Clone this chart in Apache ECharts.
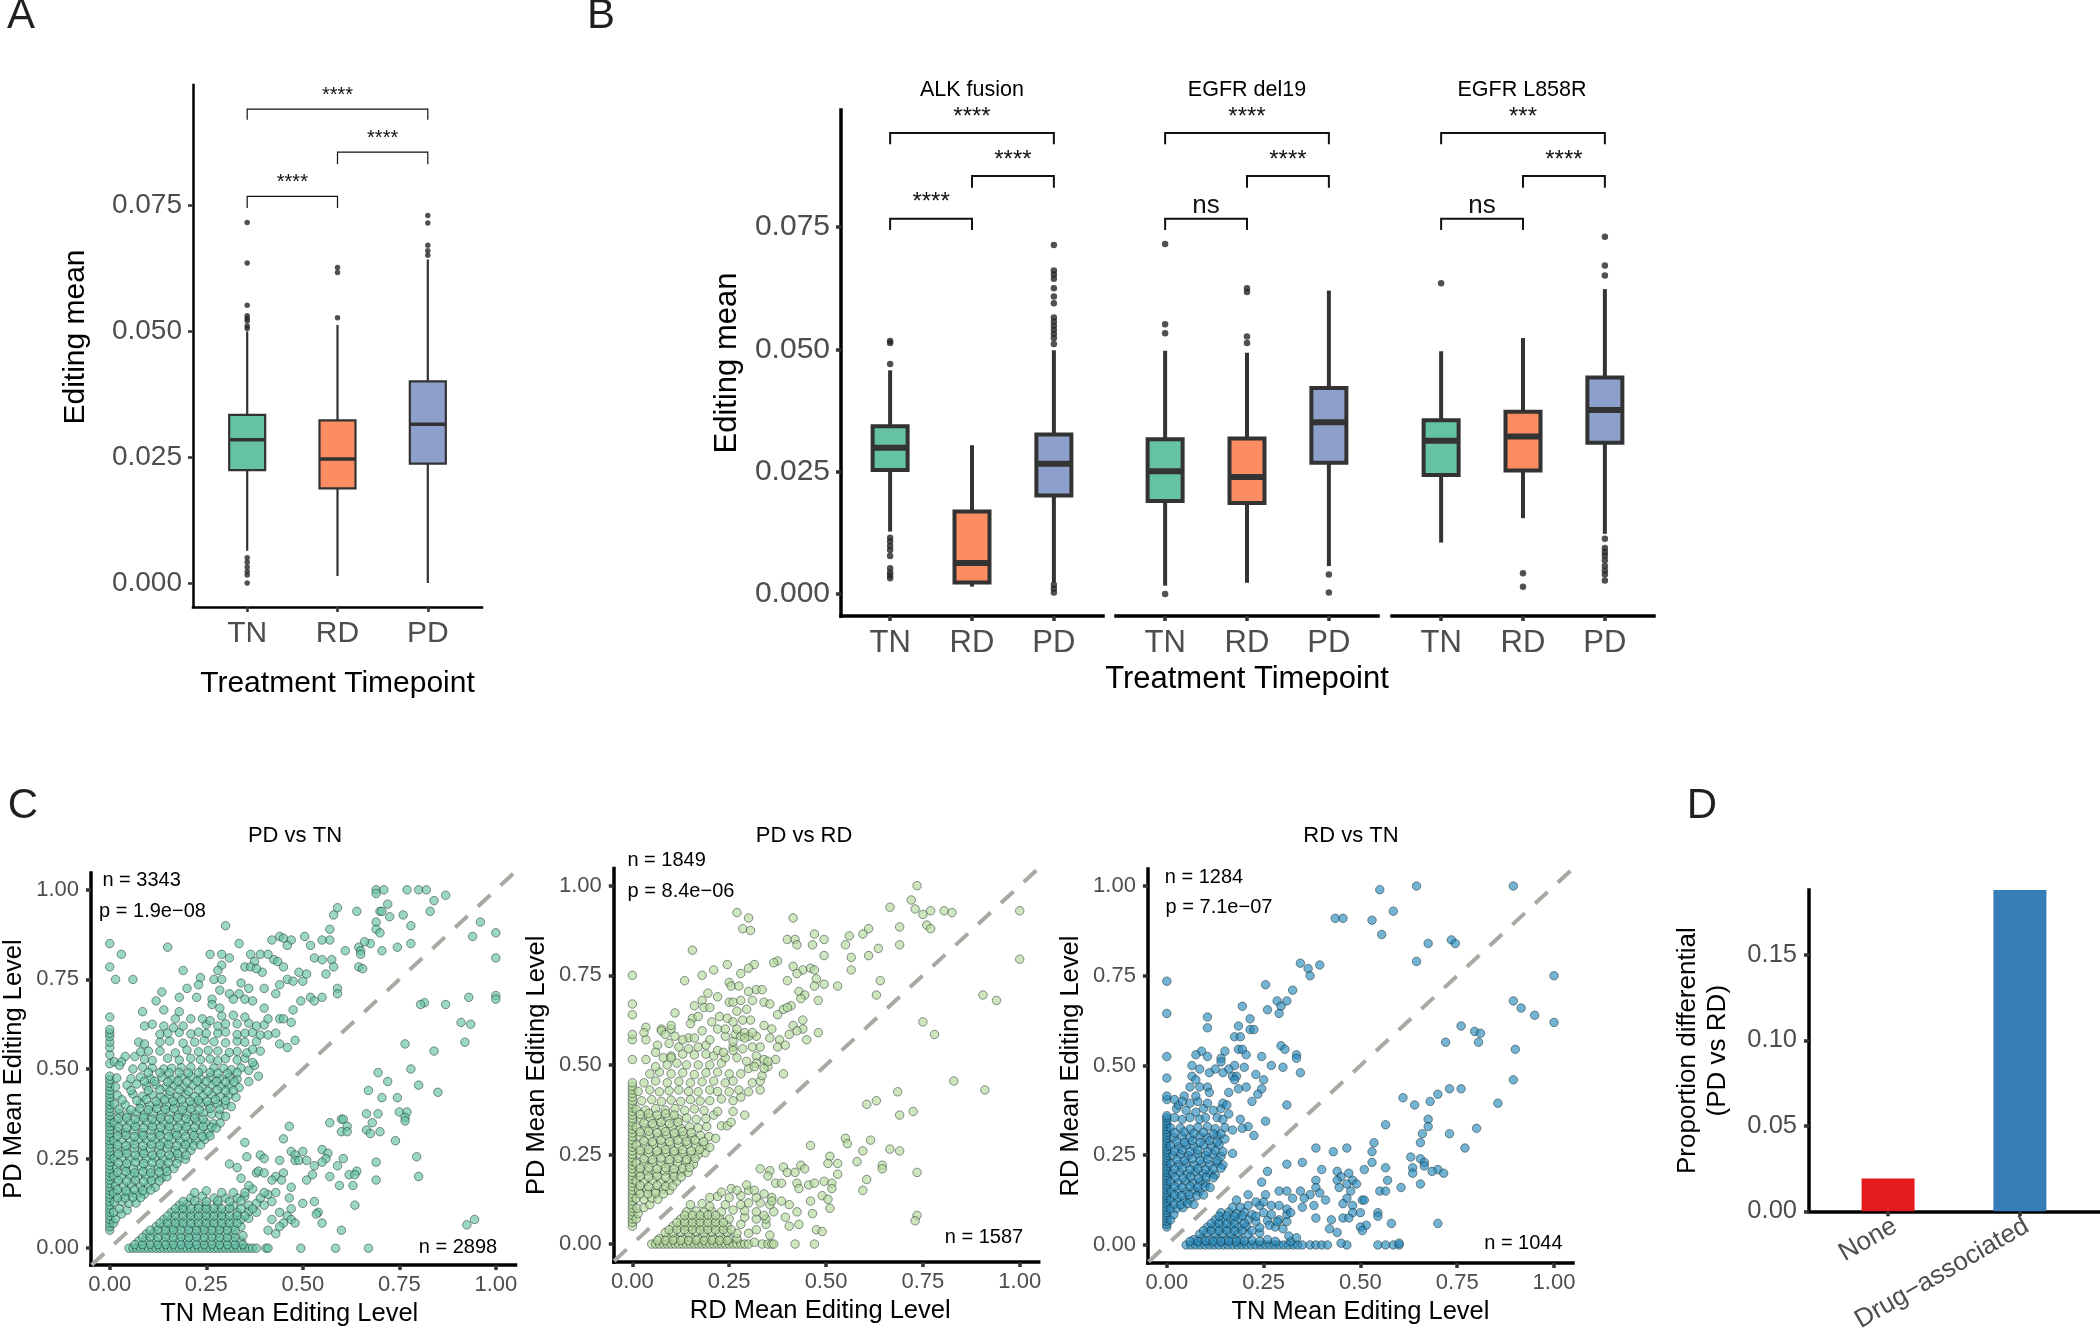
<!DOCTYPE html>
<html><head><meta charset="utf-8">
<style>html,body{margin:0;padding:0;background:#fff}#c{width:2100px;height:1335px}</style>
<script src="https://cdn.jsdelivr.net/npm/echarts@6/dist/echarts.min.js"></script>
</head><body><div id="c"></div>
<script>
const timepoints=['TN','RD','PD'];
const boxColors=['#66C2A5','#FC8D62','#8DA0CB'];
// [position, lower whisker, q1, median, q3, upper whisker]
const boxesA=[[1,.0064,.0224,.02843,.03335,.0499],[2,.0014,.01877,.0246,.03226,.0512],[3,0,.0237,.0315,.0400,.0642]];
const outliersA=[[1,.0715],[1,.0635],[1,.0551],[1,.053],[1,.0525],[1,.052],[1,.051],[1,.0505],[1,.005],[1,.0041],[1,.0032],[1,.0023],[1,.0016],[1,0],[2,.0626],[2,.0616],[2,.0526],[3,.0729],[3,.0714],[3,.067],[3,.0659],[3,.065]];
const boxesALK=[[1,.01275,.02533,.0299,.03425,.0457],[2,.0015,.00233,.00633,.01683,.0304],[3,.0023,.0201,.0266,.0326,.0498]];
const outliersALK=[[1,.0517],[1,.0513],[1,.047],[1,.0115],[1,.0107],[1,.0098],[1,.009],[1,.00775],[1,.00525],[1,.0044],[1,.0038],[1,.0032],[3,.0713],[3,.0661],[3,.0653],[3,.0644],[3,.0625],[3,.0608],[3,.0594],[3,.0565],[3,.0557],[3,.0548],[3,.054],[3,.0532],[3,.0523],[3,.0511],[3,.0019],[3,.0011],[3,.0003]];
const boxesDel19=[[1,.0017,.019,.0251,.0316,.0497],[2,.0023,.0186,.0239,.03175,.0493],[3,.0057,.0268,.0351,.0421,.062]];
const outliersDel19=[[1,.0715],[1,.0551],[1,.0533],[1,0],[2,.0625],[2,.0617],[2,.0526],[2,.0513],[3,.004],[3,.0003]];
const boxesL858R=[[1,.0105,.0243,.0313,.0355,.0496],[2,.0155,.02525,.0322,.03725,.0523],[3,.0123,.0309,.0376,.04425,.0623]];
const outliersL858R=[[1,.0635],[2,.00425],[2,.0015],[3,.073],[3,.0671],[3,.0651],[3,.0113],[3,.0094],[3,.0086],[3,.0078],[3,.0069],[3,.0057],[3,.0048],[3,.004],[3,.00275]];
// [from, to, bar level, leg end, label]
const bracketsA=[[1,3,.0940,.0919,'****'],[2,3,.0855,.0831,'****'],[1,2,.0767,.0744,'****']];
const bracketsALK=[[1,3,.0942,.0919,'****'],[2,3,.0854,.083,'****'],[1,2,.0767,.0744,'****']];
const bracketsDel19=[[1,3,.0942,.0919,'****'],[2,3,.0854,.083,'****'],[1,2,.0767,.0744,'ns']];
const bracketsL858R=[[1,3,.0942,.0919,'***'],[2,3,.0854,.083,'****'],[1,2,.0767,.0744,'ns']];
const yTicksBox=[0,.025,.05,.075];
const ticksC=[0,.25,.5,.75,1];

// Scatter readings: flat x,y lists in percent
const pdTnColumn=[5,6,7,8,9,10,11,12,13,14,15,16,17,18,19,20,21,22,23,24,25,26,27,28,29,30,31,32,33,34,35,36,37,38,39,40,41,42,43,44,45,46,47,48,51.5,54,56,57.5,59,60,61,64.5,78.5,85];
const pdTnRow=[5,6,7,8,9,10,11,12,13,14,15,16,17,18,19,20,21,22,23,24,25,26,27,28,29,30,31,32,33,34,35,36,37,38,40.5,41,49.5,58.5,67];
const pdTnDense=[1,7,1.5,8.2,1,10,3,9.5,2.5,11,4.5,10.6,1.2,12.8,3.2,13,5,12.5,6.8,12.6,1,15.4,2.8,15,5,15.2,7,14.9,9,15.1,1.5,17.5,3.6,17.3,5.6,17.8,7.9,17.2,10,17.6,11.8,17,1,20.2,3,19.8,5.2,20.3,7.3,19.9,9.4,20.1,11.4,20,13.4,19.6,14.8,19.9,1.8,22.4,4,22.6,6.1,22.2,8.2,22.7,10.5,22.3,12.6,22.5,14.6,22.4,16.6,22.2,1.1,25,3.2,25.2,5.3,24.9,7.4,25.3,9.5,25,11.7,25.2,13.8,24.9,15.9,25.3,18,25,19.6,24.8,2,27.6,4.2,27.4,6.4,27.8,8.5,27.3,10.6,27.7,12.8,27.5,15,27.8,17,27.3,19.1,27.6,21,27.3,1,30,3.1,30.2,5.3,29.9,7.4,30.3,9.6,30,11.8,30.2,13.9,29.8,16,30.3,18.2,30,20.3,29.8,22.3,30.1,24.6,30.3,2,32.6,4.1,32.4,6.3,32.8,8.5,32.3,10.7,32.7,12.8,32.4,15,32.7,17.1,32.3,19.2,32.6,21.4,32.4,23.5,32.8,25.6,32.2,1.1,35,3.2,35.2,5.4,34.9,7.5,35.3,9.7,35,11.8,35.3,14,34.9,16.1,35.2,18.3,34.8,20.4,35.1,22.6,35.3,24.8,35,26.9,34.7,28.6,34.9,2.4,37.6,4.6,37.4,6.8,37.8,9,37.3,11.2,37.7,13.4,37.4,15.6,37.8,17.8,37.3,20,37.6,22.1,37.3,24.3,37.7,26.4,37.4,28.5,37.2,30,36.8,1.2,40.2,4,40,8,40.3,10.3,39.8,12.5,40.2,14.7,39.9,16.9,40.3,19.1,39.8,21.3,40.1,23.5,40.4,25.7,39.9,27.9,40.3,30,40,31.5,39.5,2,42.6,6,43,8.5,42.4,11,42.8,13.2,42.3,15.4,42.7,17.6,42.4,19.8,42.8,22,42.3,24.2,42.6,26.4,42.8,28.6,42.3,30.8,42.7,32.7,42.1,1.5,45,4.5,45.5,7,45.8,9.5,45.2,12,45.6,14.5,45,16.8,45.4,19.2,45,21.5,45.5,24,45,26.5,45.6,28.8,45.1,31,45.3,33.5,44.8,1.8,47.5,5.5,47.3,8,47.8,10.5,47.4,13.5,47.7,16,47.2,18.5,47.6,21,47.9,23.5,47.4,26,47.7,28.5,47.3,31,47.7,33,47.2,36,46.5,6,50,8.5,50.5,11,50.3,14,50,16,50.2,18.5,50.4,21,50.5,24,50,27,50.3,29.5,50.2,31.5,49.8,34,50.3,36,49.6,37.5,51,38.5,48,9,52.7,11,52.4,15,53,18,52.5,21,53,23.5,52.6,26,52.8,28,52.3,30,52.9,33,52.5,35,53,37,51.8,4,53.5,6.5,53.5,8,54.8,10,55,13,55,17,54.5,20,55.3,23,54.8,25.5,55.2,28,55,31,54.6,33,54.9,35.5,54.5,37,55.5,39,55,7.5,57.5,9,57,13,57.5,15.5,57.8,19,57.2,22,57.5,24.5,58,27,57.6,30,57.3,33,57.8,35,57.5,38,57.7,13,59.7,15,60,18,60.2,21,59.8,23,60.3,25,59.9,28,60,30,60.3,33,59.6,35,60,37,60.2,39,59.5,41,59.5,9,62,11,62.5,14,62,16.5,61.5,19,62,25,62.4,28,62,30,62.6,33,62.6,36,62.8,38,62,40,62.3,17,64,21,64,24,64,26,63.5,29,64.8,32,65,35,64.5,1.2,52,3,52,2.5,51,
7.5,2,9.5,2.3,12,2,14,1.8,16,2.2,18,2,20,2.3,22,1.9,24,2.2,26,2,28,2.3,30,1.9,32,2,34,2,9.5,4,11.5,4.2,14,4,16,4.3,18,3.9,20,4.2,22,4,24,4.3,26,4,28,4.2,30,4,32,4.1,12,6,14,6.2,16,5.8,18,6.3,20,6,22,6.2,24,5.9,26,6.3,28,6,30,6.2,32,5.9,34,6,14,8,16,8.2,18,7.8,20,8.3,22,8,24,8.2,26,7.9,28,8.3,30,8,32,8.2,34,8,36,8.3,16,10,18,10.3,20,10,22,10.2,24,9.8,26,10.3,28,10,30,10.2,33,10,36,10.3,38,10,18,12,20,12.3,23,12,25,12,28,12.3,32,11.8,36,12,38,12.5,40,12,21,14,24,14.5,27,14,30,14,33,14,35,14.5,39,14,41,15,22,15.5,25,16,29,15.5,32,15.5,35,15.5,37,16.5,40,15.5,43,15.5,42,13,44,10,46,9,47,8,45,7,48,7,42,8,41,5,43,4,44,6,46.5,14,47,11,50,12.5,53,13,54,10,55,7,53.5,9.5];
const pdTnDense2=[2,14,4,14,6,14.2,8,14.1,2,16.3,4.2,16,6.4,16.4,8.6,16.1,10.6,16.2,2.2,18.9,4.4,18.7,6.6,19,8.8,18.6,10.8,18.9,12.8,18.7,2,21.2,4.2,21.4,6.4,21,8.6,21.3,10.6,21,12.8,21.2,14.8,21.4,2.2,23.8,4.4,23.6,6.6,24,8.8,23.6,11,23.9,13,23.6,15.2,23.9,17.4,23.6,2.2,26.2,4.4,26.4,6.6,26,8.8,26.4,11,26,13.2,26.3,15.4,26,17.6,26.4,19.8,26,2,28.8,4.2,28.6,6.4,29,8.6,28.6,10.8,29,13,28.7,15.2,29,17.4,28.6,19.6,28.9,21.8,28.6,23.5,28.8,2,31.3,4.2,31.5,6.4,31.1,8.6,31.4,10.8,31,13,31.4,15.2,31.1,17.4,31.5,19.6,31.1,21.8,31.4,24,31.2,26,31.3,2.2,33.8,4.4,33.6,6.6,34,8.8,33.6,11,34,13.2,33.7,15.4,34,17.6,33.6,19.8,33.9,22,33.7,24.2,34,26.4,33.7,27.6,33.5,2.2,36.2,4.4,36.4,6.6,36,8.8,36.4,11,36,13.2,36.3,15.4,36,17.6,36.4,19.8,36.1,22,36.3,24.2,36,2.4,38.8,5.5,38.6,7.8,39,10,38.6,12.2,39,14.4,38.7,16.6,39,18.8,38.6,21,38.9,23.2,38.6,26,39,28.5,38.8,3.2,41.4,7,41.2,9.5,41.5,12,41,14.2,41.4,16.4,41,18.6,41.4,20.8,41,23,41.3,25.2,41,27.4,41.5,30,41.2,5.5,44,10,44,13,44.2,15.6,43.8,18,44.2,20.4,43.8,23,44.2,25.4,43.8,27.8,44.2,30,43.9,32,44,9,46.6,11.6,46.6,15,46.4,17.6,46.6,20,46.4,22.6,46.6,25,46.5,27.6,46.5,30,46.4,32.2,46.4,10,49,13,49,15.4,48.9,18,49,20.4,48.9,23,49,26,49,28,48.8,30.5,48.8,33,49,
6.5,1,8.5,1,10.5,1.1,12.5,1,14.5,1,16.5,1.1,18.5,1,20.5,1.1,22.5,1,24.5,1,26.5,1.1,28.5,1,30.5,1,32.5,1,34.5,1,8.5,3,10.5,3.1,12.5,3,14.5,3.1,16.5,3,18.5,3.1,20.5,3,22.5,3.1,24.5,3,26.5,3.1,28.5,3,30.5,3,32.5,3,34.5,3.5,10.5,5,12.5,5.1,14.5,5,16.5,5.1,18.5,5,20.5,5.1,22.5,5,24.5,5.1,26.5,5,28.5,5.1,30.5,5,32.5,5,13,7,15,7.1,17,7,19,7.1,21,7,23,7.1,25,7,27,7.1,29,7,31,7.1,33,7,15,9,17,9.1,19,9,21,9.1,23,9,25,9.1,27,9,29,9.1,31,9,33,9.1,35,9,17,11,19,11.1,21,11,23,11.1,25,11,27,11.1,29,11,31,11.2,34,11,37,11,19,13,22,13.2,25,13,28,13.2,31,13,34,13.2];
const pdTnSparse=[69,100,71,100,77,100,80,100,82,100,69,99,87,98.5,84,97,72,96,59,95,83,94,70,94,70.5,94,64,94,58,93,76,93,72.5,92.5,96,91,69,91,78,90,30,90,69,89,57,89,70,88,100,88,94,87,44,87,50.5,87,45,86.5,47,86,42,86,57,86,55,86,78,85,67.5,85,66,85.5,33.5,85,46,84.5,52,84.5,15,84,64.5,84,74.5,84,65,83,70.5,83,3,82,61,83,65,82,26,82,29,82,31,81,36.5,82,39,82,41,82,42.5,80.5,43.5,80,100,81,53,81,55,80.5,57.5,80.5,29,79,37.5,80,35,78.5,36.5,78.5,45,78.5,58,78.5,64.5,78.5,65.5,78,19,77.5,28,77.5,39.5,77,38,78,49,77,56,76.5,23.5,75.5,1.5,75,6,75,27,75,29,75,46,75,47.5,74.5,50,74.5,51,76.5,34,74,20,72.5,23,73.5,44,73.5,40,72.5,59,72.5,59,71,28.5,72,13.5,71.5,31,71,33.5,71,36,72.5,43,71,49.5,69,55,70,52,70,53,69,18,70,22.5,70,12,69,26.5,69.5,32,69.5,35,69.5,37,69,100,70.5,100,69.5,93,70,81.5,68.5,80.5,68,87,68,8.5,66,14,66.5,18,66,26.5,68,28.5,67,40,67,47.5,66.5,44,64,45,64,47,63,41,64,91,63,93.5,62.5,92,57.5,76.5,57,84,55,48,58,44,57,46,56,43,60,69.5,49,78,50,72,46.5,80,45.5,85,43.5,67,44,70.5,42,74.5,42,75,38,77,38,66.5,37.5,69.5,37.5,76.5,36.5,76.5,35.5,68,35,60,36,60.5,36,57,35,61.5,34,46.5,34,60,32.5,61.5,32.5,66.5,33,67.5,32,70,32.5,45,30.5,74,30,35,29.5,55,27.5,50,27,47,27,56.5,26.5,39,26,35.5,25.5,40,25,48,26,56,25,60.5,25,79.5,25.5,44,24.5,48,24.5,49,24.5,51,24.5,55,24,69,24,31,23.5,33,22.5,53,23,59,23,64,21.5,62,20.5,63.5,20.5,38,21,38.5,21.5,40,21,45,21,43,20,52.5,20.5,57,20,80,20,34,19.5,42,19,44.5,19,51,19,69,19,59.5,17.5,63,17.5,36,17.5,47,17,63.5,12,60,5,92.5,6.5,94.5,8];
const pdRdColumn=[5,6,7,8,9,10,11,12,13,14,15,16,17,18,19,20,21,22,23,24,25,26,27,28,29,30,31,32,33,34,35,36,37,38,39,40,41,42,43,44,45,51.5,57,58.5,64,67,75];
const pdRdRow=[5,6,7,8,9,10,11,12,13,14,15,16,17,18,19,20,21,22,23,24,25,26,27,28,29,30,33.5,35,36,36.5,42,47];
const pdRdDense=[1,7,1.5,8.5,1.2,10,3,10.2,4.5,11,1,12.7,3,12.4,5,12.8,6.6,12.5,1.6,15,3.8,15.2,6,14.9,8,15.3,9.6,15,1,17.6,3,17.4,5.2,17.7,7.4,17.3,9.6,17.6,11.4,17.5,1.8,20,4,20.2,6.2,19.8,8.4,20.3,10.6,19.9,12.8,20.1,14.4,20,1,22.6,3,22.4,5.2,22.7,7.4,22.3,9.5,22.6,11.7,22.4,13.8,22.8,15.8,22.3,2,25,4.2,25.2,6.4,24.9,8.6,25.3,10.8,25,13,25.2,15.2,24.9,17,25,18.8,25.5,1,27.6,3.2,27.4,5.4,27.8,7.6,27.4,9.8,27.7,12,27.4,14.2,27.8,16.4,27.3,18.6,27.6,20,27,2,30,4.4,30.2,6.6,29.9,8.8,30.3,11,30,13.2,30.2,15.4,29.8,17.6,30.3,19.8,30,21.5,29.5,1,32.6,3.3,32.4,5.6,32.8,7.9,32.4,10.2,32.7,12.5,32.3,14.8,32.7,17,32.4,19.2,32.8,23,33,24.5,33,25.5,34,2.2,35,4.6,35.3,7,34.9,9.4,35.3,11.8,35,14,35.2,16.5,34.8,19,35,21,36,1,37.6,3.4,37.4,6,37.8,8.5,37.4,11,37.8,13.5,37.3,16,37.7,18.5,37.3,22,37,26,37,29,36,2.4,40,5,40.3,7.5,39.8,10,40.2,12.5,39.8,15,40.3,17.5,39.9,20,40,23,40.5,26,40,28,41,1.5,42.6,4.5,43,7,42.5,9.5,42.8,12,43,14.5,42.6,17,42.5,20,43,22,42.6,25,42.5,27.5,43,30,42.5,33,43,3,45,6,45.5,9,45,12,45.4,15,45,18,45.3,21,45.5,24,45,26,45.5,31,45,33,45.5,4.5,47.5,7,48,10,47.5,13,47.8,16,47.3,19,47.8,22,48,25,47.5,33.5,47,6,49.5,9,50,11.5,50.5,14,50,17,50,20,50,23,50.5,30,49,35,49.5,8,52,10,52.5,13,53,16,52.8,19,53,21,52.5,24,52,27,52,32,52.5,34,51.5,12,55,14.5,54.5,17,55,19,55.5,22,54,26,55,31,55,14.5,57.5,16,57.5,20,57,24,58,26.5,58.5,28,58,30,58,32,58,7.5,60,10,60,18,59.5,22,60,24,60,27,60,29,59,31,59,
7,1.5,9,1.8,11,1.5,13,1.4,15,1.8,17,1.5,19,1.8,21,1.4,23,1.6,25,1.4,27,1.5,8.5,3.2,10.5,3,12.5,3.3,14.5,3,16.5,3.4,18.5,3,20.5,3.3,22.5,3,24.5,3.2,27,3,30,3,32,4,10.5,5,12.5,5.2,14.5,4.9,16.5,5.3,18.5,5,20.5,5.2,22.5,5,24.5,5.2,28,5.5,12.5,7,14.5,7.2,16.5,6.9,18.5,7.3,20.5,7,22.5,7.2,25,7,29,7.5,32,7,34.5,5.5,34.5,7,14,9,16.5,9.2,18.5,8.9,20.5,9.2,23,9,26,9.5,29,9.3,32,9,34,8,36.5,9,15,11,18,11.3,20,10.5,24,11,28,11,30,11.5,33,11.5,35.5,11,20,13,22,13.3,25,13,28,13.5,32,13,36,13,23,14.5,25.5,15.5,27,15,30,15];
const pdRdDense2=[2,14,4,14,6,14.2,8,14,2,16.3,4.2,16,6.4,16.4,8.6,16.1,10.4,16.2,2,18.9,4.2,18.7,6.4,19,8.6,18.6,10.8,18.9,12.6,18.7,2,21.2,4.2,21.4,6.4,21,8.6,21.3,10.8,21,13,21.2,14.8,21.4,3,23.8,5.2,23.6,7.4,24,9.6,23.6,11.8,23.9,14,23.6,16.2,23.9,2,26.2,4.2,26.4,6.4,26,8.6,26.4,10.8,26,13,26.3,15.2,26,17.4,26.4,3,28.8,5.2,28.6,7.4,29,9.6,28.6,11.8,29,14,28.7,16.2,29,18.4,28.6,2,31.3,4.2,31.5,6.4,31.1,8.6,31.4,10.8,31,13,31.4,15.2,31.1,3,33.8,5.2,33.6,7.4,34,9.6,33.6,11.8,34,2,36.2,4.2,36.4,6.4,36,8.6,36.4,10.8,36,
6.5,1,8.5,1,10.5,1.1,12.5,1,14.5,1,16.5,1.1,18.5,1,20.5,1.1,22.5,1,24.5,1,9.5,4,11.5,4.1,13.5,4,15.5,4.1,17.5,4,19.5,4.1,21.5,4,23.5,4.1,25.5,4,11.5,6,13.5,6.1,15.5,6,17.5,6.1,19.5,6,21.5,6.1,23.5,6,13.5,8,15.5,8.1,17.5,8,19.5,8.1,21.5,8];
const pdRdSparse=[73.5,100,72,96,66.5,94,73,93.5,100,93,77,93,80.5,93,82.5,92.5,75,92,27,92.5,30,91,41.5,91,76,89,77,88,28.5,88,30.5,87.5,69,88.5,61,88,59.5,86.5,56,86,47,86.5,40,85,42,85,42.5,83.5,49.5,85,46.5,83.5,55,83.5,69,83.5,63.5,82.5,15.5,82,61,80.5,49.5,80.5,56.5,80,100,79.5,37.5,79,36.5,78.5,31.5,78,24.5,78,30,77,41.5,77.5,44,76.5,42.5,75.5,46,77,47,76.5,56.5,76.5,21,76.5,28,75.5,18,75,47.5,74,40,73.5,64,73.5,13.5,73.5,25,73,49.5,72.5,47,72,53,72,25.5,72,27.5,72,32,71,33.5,71,30,70.5,43,70.5,44.5,69.5,19.5,70,63,69.5,90.5,69.5,94,68,22,69,43.5,68.5,48,68,18,68,25,67.5,26,67.5,28,68,31,68,34,67.5,35.5,67,16,66.5,18.5,66,20,66,41,66.5,39,65.5,40,66,11,64.5,27,65,29.5,65.5,37.5,64,15.5,63,17,63.5,22.5,63.5,24.5,63,44,62.5,26,62,28.5,62.5,30.5,62.5,15,61.5,20.5,62,75,62,34,61,41.5,61,10,61,3.5,60.5,36,60,44,60,48,59,3,59,42.5,59.5,7.5,59.5,78,58.5,3.5,57,8.5,58.5,11,58,13,57,40.5,58.5,45,57,38,57,35.5,57.5,26,56.5,29,57.5,9.5,56,6.5,55.5,37.5,55,39.5,55.5,33,55,6,53.5,28.5,54.5,26,54,23.5,53.5,3.5,51.5,37,51.5,35,51,10,52,29.5,51,32,50.5,39,47.5,28,47.5,34,49,31.5,49.5,83,45.5,91,43,68.5,42.5,63,40,60.5,39,69,36,72.5,37,55,29.5,55.5,28,61.5,29,46,27.5,59.5,26,66.5,26.5,69,26,51,24.5,50.5,22.5,53,22.5,58,23,64.5,22,64.5,21,73.5,20,33,21,35.5,20.5,43.5,22,44.5,21,39,21.5,40,20,42,20,53,19.5,35,19,37,17,38.5,17,42.5,17,43,15.5,45.5,16.5,47,17,49.5,17.5,60.5,18,59.5,15,51.5,17,51.5,15.5,49,13.5,50.5,12.5,51,10,46,12,38.5,12,40.5,11,42.5,9,46.5,8.5,40.5,5,43,5.5,47.5,4,49,3.5,73.5,8,73,6.5,35.5,2.5,31.5,0.5,29.5,16.5,31.5,15,34,14,36,12,39.5,7.5];
const rdTnColumn=[5,5.8,6.6,7.4,8.2,9,9.8,10.6,11.4,12.2,13,13.8,14.6,15.4,16.2,17,17.8,18.6,19.4,20.2,21,21.8,22.6,23.4,24.2,25,25.8,26.6,27.4,28.2,29,29.8,30.6,31.4,32.2,33,33.8,34.6,35.4,36,40.5,41.5,46.5,52.5,64.5,73.5];
const rdTnRow=[5,6.2,7.4,8.6,9.8,11,12.2,13.4,14.6,15.8,17,18.2,19.4,20.6,21.8,23,24.2,25.4,26.6,27.8,29,30.2,31.4,32.6,33.8,35,37,38.5,40,41.5,46.5,54.5,56.5,58.5,60];
const rdTnDense=[1,7,1.8,8.5,1,10,2.6,10.2,4.2,10.4,1,12.5,2.8,12.8,4.5,12.4,6,12.7,1.2,15,3,15.2,5,14.9,7,15.2,8.4,15,1,17.6,2.9,17.4,4.8,17.7,6.7,17.4,8.6,17.7,10,17.2,1.5,20,3.4,20.2,5.4,19.8,7.4,20.3,9.4,19.9,11.2,20,12.5,19.5,1,22.6,3,22.4,5,22.7,7,22.3,9,22.6,11,22.4,13,22.8,14.5,22.3,1.6,25,3.6,25.2,5.6,24.9,8,25.3,10,25,12,25.2,14,24.7,1,27.6,3,27.4,5,27.8,7,27.4,9.5,27.8,11.5,27.5,13.5,27.9,1.8,30,4,30.2,6,29.9,8.5,30.3,10.5,30,13,30.4,15,29.5,14,31,1,32.6,3.5,32.6,6,32.3,8,32.8,10.5,33,12.5,32.4,15,32.7,17,32,2,35.5,4,35,6,35.5,8.5,35,10,35.5,13,35.5,14.5,35,16,36.5,2.5,38,5,37.5,7.5,37,9.5,38,12,37.5,14,38,3,39,6,39.5,8,40,10.5,39.5,
7,1.5,9,1.7,11,1.4,13,1.6,15,1.4,17,1.7,19,1.5,22,1.3,26,1.5,8.5,3,10.5,3.3,12.5,3,14.5,3.2,16.5,3,18.5,3.3,21,3,24,3.3,10.5,5,12.5,5.2,14.5,4.9,16.5,5.3,18.5,5,20.5,5.2,24,4.8,28,5,30,4.5,12.5,7,14.5,7.2,16.5,7,18.5,7.3,21,7,23,6.5,26,6.8,29,7,31,6.5,14,9,16,9.2,18,8.8,20,9.2,22,8.5,25,9,27,8.5,31,8.5,17,10.5,19,10.5,21,11,24,11,27,11,31,10,18,12.5,23,12];
const rdTnDense2=[2,11.4,3.6,11.2,5.4,11.5,7,11.3,2,13.9,3.8,13.7,5.8,14,7.8,13.7,9.5,13.9,2,16.3,4,16,6,16.4,8,16.1,10,16.2,11.2,16,2.2,18.9,4.2,18.7,6.2,19,8.2,18.6,10.2,18.9,12,18.7,2,21.2,4,21.4,6,21,8,21.3,10,21,12,21.2,14,21.4,2.6,23.8,4.6,23.6,6.6,24,8.6,23.6,10.6,23.9,13,23.6,2,26.2,4,26.4,6,26,8,26.4,10.5,26,12.5,26.3,14.5,26,2.6,28.8,4.6,28.6,6.6,29,8.6,28.6,11,29,13,28.7,2,31.3,4.5,31.5,7,31.1,9.5,31.4,12,31,
6,1,8,1,10,1.1,12,1,14,1,16,1.1,18,1,20,1.1,24,1,28,1,32,1,9.5,4,11.5,4.1,13.5,4,15.5,4.1,17.5,4,19.5,4.1,22,4,11.5,6,13.5,6.1,15.5,6,17.5,6.1,20,6,13.5,8,15.5,8.1,17.5,8,19.5,8.1,23,8];
const rdTnSparse=[55,99,64.5,100,89.5,100,58.5,93,43.5,91,45.5,91,53,90.5,55.5,86.5,67.5,84,73.5,85,74.5,84,64.5,79,34.5,78.5,39.5,78,36.5,77,37,75,100,75,25.5,72.5,32.5,71,28.5,68,31,68,89.5,68,91.5,66,26,65.5,29.5,66.5,19.5,66.5,29,64.5,95,64,10.5,63.5,21.5,63,100,62,18.5,61,10.5,60.5,21.5,60,22.5,60,76,61,79.5,59.5,81,59,17.5,58,19,58,72,56.5,80.5,56.5,29.5,55.5,30.5,54.5,18.5,54.5,19.5,54.5,90,54.5,9,54,7.5,53,15,54,20.5,53,10.5,52.5,14,52,24.5,52.5,33.5,53,33.5,52,14,51,6.5,50,17.5,50,16,49,27,50,30,49.5,8.5,49,20,49.5,12.5,49,11,48,14.5,48,34.5,48,6.5,47,7.5,46,23,47.5,17,47,18,47,17.5,46,25,46,8.5,44,10.5,44,6,44,20.5,44,18.5,43.5,24.5,43.5,89.5,46,73,43.5,76,43.5,70,42,61,41,68,40,64,39,85.5,39.5,16,42.5,23.5,42,7.5,41.5,11,42.5,22,40,4.5,41.5,4,40,14.5,39.5,15.5,39,31,39,2,40.5,67.5,35,56.5,33.5,67.5,33,25.5,34.5,19,35,80,32.5,73,31,66,31,21,33,19.5,32.5,22.5,30.5,53.5,28.5,65.5,28.5,77,27,38.5,27,46.5,27,43,26,53,26,17,25.5,63,24.5,65.5,24,53,23,35,23,31,22.5,66.5,23,63.5,21.5,66.5,22,56.5,21.5,40,21,26,20.5,51,21,44,20.5,70,21,68.5,20.5,71.5,20,63.5,20,47,20,45,19,38.5,18,44,18,48,18,57,18,65.5,17,24.5,17.5,38.5,16,49,17,46.5,17,44.5,16,60.5,16,29,15,31,15,34.5,15,55,15,56.5,15,47.5,15,37,14,39.5,14.5,21,14,25.5,14,32.5,13,35.5,13,46.5,13,41,12.5,50.5,12.5,51,12.5,45.5,11.5,48,11,25,12,29,11,35,10.5,38,11,32,9,48,9,50,9,54.5,9,54.5,8,45.5,7.5,47,7.5,38.5,7.5,42.5,7,70,6,58,6,51.5,5.5,50,5,50.5,4,42,4.5,44,3.5,45,0.5,60,0.5,33.5,2,31.5,2.5,28.5,6.5,26.5,5.5];
const categoriesD=['None','Drug−associated'];
const valuesD=[.0192,.188];
const barColorsD=['#E41A1C','#377EB8'];
const yTicksD=[0,.05,.10,.15];

const FONT='"Liberation Sans",Arial,sans-serif', GREY='#4D4D4D', DARK='#333333';
const pairs=flat=>{const o=[];for(let i=0;i<flat.length;i+=2)o.push([flat[i]/100,flat[i+1]/100]);return o;};
const scatterData=(col,row,dense,dense2,sparse)=>col.map(y=>[0,y/100]).concat(row.map(x=>[x/100,0]),pairs(dense),pairs(dense2),pairs(sparse));

function axis(o){
  return {type:'value',gridIndex:o.g,min:o.min,max:o.max,position:o.pos,show:o.show!==false,
    name:o.name,nameLocation:'middle',nameGap:o.gap,
    nameTextStyle:{fontFamily:FONT,fontSize:o.nameSize,color:'#000',padding:o.namePad||0,lineHeight:o.nameLH},
    splitLine:{show:false},
    axisLine:{show:o.line!==false,onZero:false,lineStyle:{color:'#000',width:o.lw,cap:'square'}},
    axisTick:{show:true,length:5,customValues:o.ticks,lineStyle:{color:DARK,width:o.tw||o.lw}},
    axisLabel:{show:true,customValues:o.ticks,margin:o.margin||6,padding:o.labelPad||0,fontFamily:FONT,fontSize:o.size,color:GREY,formatter:o.fmt,rotate:o.rotate||0,hideOverlap:false}};
}
const catFmt=v=>timepoints[Math.round(v)-1];
const grids=[],xAxes=[],yAxes=[],series=[];

function boxPanel(o){
  const g=grids.length;
  grids.push({left:o.left,top:o.top,width:o.width,height:o.height});
  xAxes.push(axis({g,min:.4,max:3.6,pos:'bottom',ticks:[1,2,3],fmt:catFmt,size:o.xtick,lw:o.lw,margin:o.xm,name:o.xname,gap:o.xgap,nameSize:o.nameSize}));
  yAxes.push(axis({g,min:o.ymin,max:o.ymax,pos:'left',ticks:yTicksBox,fmt:v=>v.toFixed(3),size:o.tick,lw:o.lw,margin:o.ym,show:o.yshow,name:o.yname,gap:o.ygap,nameSize:o.nameSize,namePad:o.yPad}));
  const base={xAxisIndex:g,yAxisIndex:g,silent:true,animation:false};
  series.push(Object.assign({},base,{type:'scatter',name:'outliers',data:o.outliers,symbolSize:o.ptSize,itemStyle:{color:'#262626'},z:2}));
  series.push(Object.assign({},base,{type:'custom',name:'boxes',data:o.boxes,encode:{x:0,y:[1,2,3,4,5]},z:3,
    renderItem(p,api){
      const x=api.value(0),c=i=>api.coord([x,api.value(i)]);
      const lo=c(1),q1=c(2),m=c(3),q3=c(4),hi=c(5),hw=o.boxW/2,ls={stroke:DARK,lineWidth:o.wlw};
      return {type:'group',children:[
        {type:'line',shape:{x1:lo[0],y1:lo[1],x2:q1[0],y2:q1[1]},style:ls},
        {type:'line',shape:{x1:q3[0],y1:q3[1],x2:hi[0],y2:hi[1]},style:ls},
        {type:'rect',shape:{x:q3[0]-hw,y:q3[1],width:o.boxW,height:q1[1]-q3[1]},style:{fill:boxColors[p.dataIndex],stroke:DARK,lineWidth:o.wlw}},
        {type:'line',shape:{x1:m[0]-hw,y1:m[1],x2:m[0]+hw,y2:m[1]},style:{stroke:DARK,lineWidth:o.mlw}}
      ]};
    }}));
  series.push(Object.assign({},base,{type:'custom',name:'brackets',data:o.brackets.map(b=>b.slice()),encode:{x:[0,1],y:[2,3]},z:4,clip:false,
    renderItem(p,api){
      const b=o.brackets[p.dataIndex],a=api.coord([b[0],b[2]]),e=api.coord([b[1],b[2]]),l=api.coord([b[0],b[3]]);
      const ns=b[4]==='ns';
      return {type:'group',children:[
        {type:'polyline',shape:{points:[[a[0],l[1]],a,e,[e[0],l[1]]]},style:{stroke:'#111',lineWidth:o.blw,fill:null}},
        {type:'text',style:{text:b[4],x:(a[0]+e[0])/2,y:a[1]+(ns?o.nsOff:o.starOff),align:'center',verticalAlign:'middle',font:(ns?o.nsSize:o.starSize)+'px '+FONT,fill:'#111'}}
      ]};
    }}));
}
boxPanel({left:193,top:85,width:289,height:522,ymin:-.00476,ymax:.0988,tick:28,xtick:30,lw:2.5,xm:12,ym:11,boxW:36,wlw:2.2,mlw:3.5,ptSize:5.5,blw:1.2,
  boxes:boxesA,outliers:outliersA,brackets:bracketsA,starOff:-14,starSize:20,nsOff:-13,nsSize:25,
  xname:'Treatment Timepoint',xgap:62,yname:'Editing mean',ygap:102,nameSize:30,yPad:[0,0,0,18]});
const bp={top:110,width:262,height:506,ymin:-.0045,ymax:.0989,tick:30,xtick:31,lw:3.5,xm:12,ym:11,boxW:35,wlw:4,mlw:6,ptSize:6.5,blw:2,starOff:-16,starSize:24,nsOff:-13,nsSize:26,nameSize:31};
boxPanel(Object.assign({},bp,{left:841,boxes:boxesALK,outliers:outliersALK,brackets:bracketsALK,yname:'Editing mean',ygap:98}));
boxPanel(Object.assign({},bp,{left:1116,yshow:false,boxes:boxesDel19,outliers:outliersDel19,brackets:bracketsDel19,xname:'Treatment Timepoint',xgap:48}));
boxPanel(Object.assign({},bp,{left:1392,yshow:false,boxes:boxesL858R,outliers:outliersL858R,brackets:bracketsL858R}));

function scatterPanel(o){
  const g=grids.length;
  grids.push({left:o.left,top:o.top,width:o.width,height:o.height});
  xAxes.push(axis({g,min:o.xmin,max:o.xmax,pos:'bottom',ticks:ticksC,fmt:v=>v.toFixed(2),size:22,lw:3.5,margin:9,name:o.xname,gap:36,nameSize:25.5,namePad:o.xPad}));
  yAxes.push(axis({g,min:o.ymin,max:o.ymax,pos:'left',ticks:ticksC,fmt:v=>v.toFixed(2),size:22,lw:3.5,margin:12,name:o.yname,gap:64,nameSize:25.5}));
  const base={xAxisIndex:g,yAxisIndex:g,silent:true,animation:false};
  series.push(Object.assign({},base,{type:'scatter',name:o.yname+' vs '+o.xname,data:o.data,symbolSize:8.5,z:2,progressive:0,
    itemStyle:{color:o.color,opacity:.66,borderColor:'#0D1A1A',borderWidth:.7}}));
  series.push(Object.assign({},base,{type:'line',name:'identity',data:[[-.047,-.047],[1.047,1.047]],showSymbol:false,z:3,
    lineStyle:{color:'#A9A9A3',width:4,type:[17,14]}}));
}
scatterPanel({left:90,top:873,width:425.5,height:392,xmin:-.0486,xmax:1.051,ymin:-.047,ymax:1.047,color:'#66C2A5',
  xname:'TN Mean Editing Level',xPad:[0,28,0,0],yname:'PD Mean Editing Level',data:scatterData(pdTnColumn,pdTnRow,pdTnDense,pdTnDense2,pdTnSparse)});
scatterPanel({left:613.8,top:868.5,width:424.9,height:393.5,xmin:-.0479,xmax:1.049,ymin:-.0500,ymax:1.048,color:'#B5D99C',
  xname:'RD Mean Editing Level',xPad:[0,12,0,0],yname:'PD Mean Editing Level',data:scatterData(pdRdColumn,pdRdRow,pdRdDense,pdRdDense2,pdRdSparse)});
scatterPanel({left:1147.9,top:869,width:425.1,height:394,xmin:-.0488,xmax:1.049,ymin:-.0503,ymax:1.0475,color:'#2B8CBE',
  xname:'TN Mean Editing Level',yname:'RD Mean Editing Level',data:scatterData(rdTnColumn,rdTnRow,rdTnDense,rdTnDense2,rdTnSparse)});

{ const g=grids.length;
  grids.push({left:1809,top:890,width:290,height:322});
  xAxes.push(axis({g,min:.4,max:2.6,pos:'bottom',ticks:[1,2],fmt:v=>categoriesD[Math.round(v)-1],size:26,lw:3.5,margin:17,rotate:30,labelPad:[0,-8,0,0]}));
  yAxes.push(axis({g,min:0,max:.188,pos:'left',ticks:yTicksD,fmt:v=>v.toFixed(2),size:25.5,lw:3.5,margin:12,name:'Proportion differential\n(PD vs RD)',gap:76,nameSize:26,nameLH:30}));
  series.push({type:'bar',name:'Proportion differential',xAxisIndex:g,yAxisIndex:g,barWidth:53,animation:false,silent:true,
    data:valuesD.map((v,i)=>({value:[i+1,v],itemStyle:{color:barColorsD[i]}}))});
}

const txt=(x,y,text,size,extra)=>Object.assign({type:'text',x,y,silent:true,style:Object.assign({text,font:size+'px '+FONT,fill:'#000',align:'center',verticalAlign:'middle'},extra||{})});
const letter=(x,y,t)=>txt(x,y,t,42,{fill:'#231F20'});
const graphic=[
  letter(21,16,'A'),letter(601,16,'B'),letter(23,806,'C'),letter(1702,806,'D'),
  txt(972,90,'ALK fusion',21.5),txt(1247,90,'EGFR del19',21.5),txt(1522,90,'EGFR L858R',21.5),
  txt(295,836,'PD vs TN',22),txt(804,836,'PD vs RD',22),txt(1351,836,'RD vs TN',22),
  txt(141.6,880,'n = 3343',20),txt(152.5,911,'p = 1.9e−08',20),txt(458,1247,'n = 2898',20),
  txt(666.6,860.6,'n = 1849',20),txt(681,891,'p = 8.4e−06',20),txt(984,1237.7,'n = 1587',20),
  txt(1204,877,'n = 1284',20),txt(1219,907,'p = 7.1e−07',20),txt(1523.4,1243,'n = 1044',20)
];
const chart=echarts.init(document.getElementById('c'),null,{renderer:'canvas'});
chart.setOption({backgroundColor:'#fff',animation:false,textStyle:{fontFamily:FONT},grid:grids,xAxis:xAxes,yAxis:yAxes,series,graphic:{elements:graphic}});
</script></body></html>
